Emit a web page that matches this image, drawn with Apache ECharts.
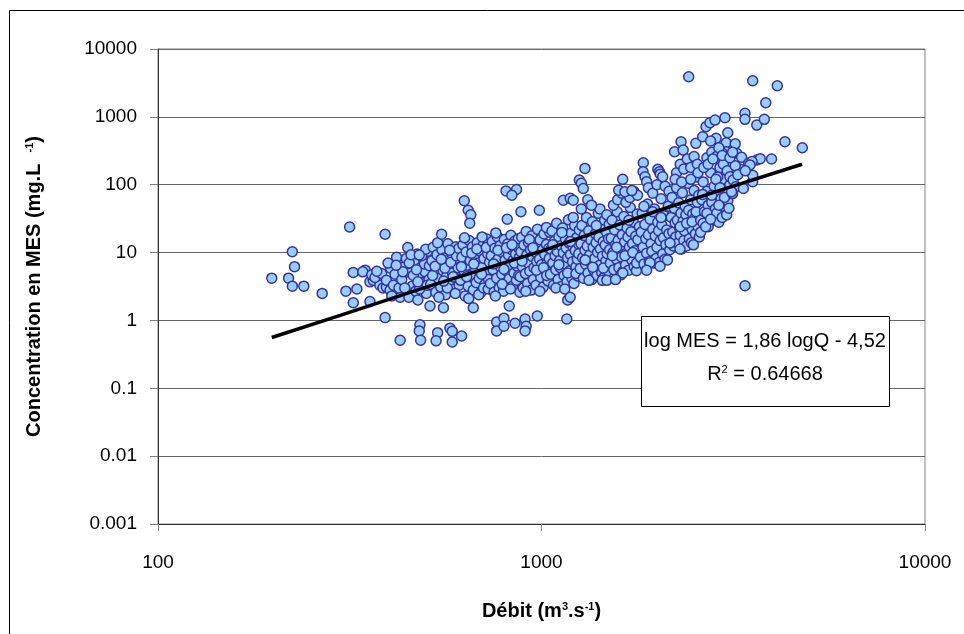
<!DOCTYPE html>
<html>
<head>
<meta charset="utf-8">
<script src="https://cdn.jsdelivr.net/npm/echarts@6/dist/echarts.min.js"></script>
<style>
html,body{margin:0;padding:0;background:#fff}
#chart{width:964px;height:634px}
</style>
</head>
<body>
<div id="chart"></div>
<script>
// samples [debit m3/s, MES mg/L]
var q200to350 = [[198,4.2],[219,4.2],[224,10.3],[227,6.2],[224,3.2],[240,3.2],[268,2.5],[309,2.7],[316,23.8],
    [323,5.1],[347,5.5],[342,5.2],[330,2.9],[323,1.82]];
var q350to510 = [[357,3.7],[364,3.9],[379,3.3],[386,3.0],[394,3.1],[361,4.7],[368,4.3],[383,4.9],[394,3.9],[403,2.8],
    [411,3.3],[357,1.9],[391,1.1],[391,18.6],[404,5.9],[419,8.5],[448,11.9],[428,2.2],[451,2.2],[372,5.3],[398,7.0],
    [415,4.8],[425,3.0],[432,4.0],[438,6.2],[444,8.2],[456,5.0],[460,3.2],[466,7.4],[470,2.7],[474,9.5],[478,4.3],
    [484,6.0],[488,3.6],[492,8.0],[497,5.2],[501,2.5],[505,10.5],[509,4.0],[440,3.0],[463,4.6],[481,2.9],[495,6.8],
    [452,7.0],[472,5.6],[487,9.0],[503,3.3],[435,5.2],[457,9.3],[476,3.7],[499,11.2],[510,6.4],[407,2.3],[418,6.5],
    [480,9.2],[428,0.51],[482,0.86],[480,0.70],[484,0.51],[512,1.63],[476,2.0]];
var q510to730 = [[514,3.4],[518,7.6],[522,12.0],[526,5.0],[530,2.6],[534,9.3],[538,4.2],[542,6.6],[546,3.1],[550,11.0],
    [554,5.4],[558,8.3],[562,2.4],[566,4.5],[570,13.5],[574,6.8],[578,3.6],[582,9.8],[586,5.0],[590,2.9],[594,7.4],
    [598,12.2],[602,4.1],[606,6.0],[610,3.3],[520,4.6],[540,2.2],[560,5.9],[580,7.2],[600,9.0],[528,6.3],[548,8.0],
    [568,3.0],[588,4.4],[608,11.5],[536,14.0],[556,3.8],[576,10.8],[596,2.5],[549,18.6],[536,0.66],[531,0.50],
    [577,0.77],[585,0.69],[585,0.48],[619,0.59],[555,1.54],
    [615,3.9],[620,8.6],[624,13.0],[628,5.4],[632,2.3],[636,10.2],[640,6.5],[644,3.2],[648,15.0],[652,7.6],[656,4.6],
    [660,12.1],[664,2.8],[668,9.0],[672,5.8],[676,3.6],[680,14.0],[684,7.0],[688,4.2],[692,10.5],[696,2.6],[700,6.1],
    [704,12.8],[708,8.2],[712,3.4],[716,5.1],[720,15.8],[724,9.6],[728,4.0],[732,7.2],[618,6.2],[638,4.4],[658,9.8],
    [678,11.3],[698,4.8],[718,11.9],[646,2.1],[666,6.8],[686,2.4],[706,3.0],[726,2.9],[664,1.54],[629,58],[644,42],
    [654,36],[650,27],[700,17.0],[630,16.5]];
var q730to1050 = [[736,3.5],[740,9.0],[744,14.5],[748,5.6],[752,2.6],[756,11.6],[760,7.3],[764,4.2],[768,17.0],[772,8.2],
    [776,3.0],[780,12.7],[784,6.0],[788,4.8],[792,10.0],[796,2.7],[800,15.6],[804,7.8],[808,3.6],[812,5.3],[816,13.4],
    [820,9.2],[824,4.1],[828,6.6],[832,18.0],[836,11.0],[840,3.2],[844,7.7],[848,5.0],[852,14.8],[856,9.5],[860,3.9],
    [864,6.3],[868,12.0],[872,4.6],[876,8.6],[750,6.8],[770,10.8],[790,3.4],[810,11.8],[830,2.9],[850,7.0],[870,16.0],
    [758,2.3],[798,5.7],[838,13.0],[878,2.6],[764,0.95],[798,1.08],[764,0.70],[798,0.82],[853,0.91],[824,1.63],
    [808,81],[861,85],[837,70],[814,31],[760,19.5],
    [880,4.4],[884,10.3],[888,16.8],[892,6.2],[896,3.0],[900,12.9],[904,8.1],[908,4.9],[912,20.5],[916,9.2],[920,3.5],
    [924,14.2],[928,6.8],[932,5.3],[936,11.0],[940,2.8],[944,17.7],[948,8.7],[952,4.0],[956,6.0],[960,13.6],[964,10.1],
    [968,3.3],[972,7.4],[976,22.0],[980,12.2],[984,5.1],[988,8.0],[992,15.5],[996,4.3],[1000,6.6],[1005,10.8],
    [1010,3.1],[1015,18.8],[1020,9.4],[1025,5.6],[1030,13.2],[1035,7.0],[1040,3.8],[1045,11.5],[1050,20.0],[890,7.5],
    [910,2.7],[930,15.6],[950,11.8],[970,5.5],[990,2.7],[1012,6.0],[1032,4.6],[1048,8.2],[906,1.05],[912,0.82],
    [906,0.70],[975,1.16],[884,40],[987,42],[1030,23.5]];
var q1050to1510 = [[1055,4.8],[1060,11.2],[1065,20.8],[1070,7.0],[1075,3.3],[1080,14.7],[1085,9.0],[1090,5.6],[1095,27.0],
    [1100,10.4],[1105,4.0],[1110,17.1],[1115,7.6],[1120,6.0],[1125,12.6],[1130,3.2],[1135,23.0],[1140,9.9],[1145,4.6],
    [1150,6.8],[1155,15.8],[1160,11.7],[1165,3.7],[1170,8.4],[1175,30.5],[1180,13.9],[1185,5.4],[1190,9.4],[1195,19.4],
    [1200,4.2],[1205,7.3],[1210,12.0],[1215,3.5],[1220,25.0],[1225,10.7],[1230,6.2],[1235,16.6],[1240,8.0],[1245,4.5],
    [1250,13.3],[1255,21.5],[1070,13.0],[1090,3.0],[1110,6.6],[1130,19.8],[1150,2.9],[1170,5.0],[1190,14.6],[1210,33.0],
    [1230,4.9],[1250,9.6],[1140,59],[1188,63],[1210,59],[1170,2.0],[1188,2.2],[1164,1.05],
    [1262,5.8],[1268,13.5],[1274,25.0],[1280,8.4],[1286,4.2],[1292,17.8],[1298,10.8],[1304,6.7],[1310,33.0],[1316,12.5],
    [1322,5.0],[1328,21.0],[1334,9.1],[1340,7.2],[1346,15.2],[1352,4.0],[1358,28.5],[1364,11.9],[1370,5.5],[1376,8.2],
    [1382,19.0],[1388,14.0],[1394,4.6],[1400,10.1],[1406,38.0],[1412,16.8],[1418,6.5],[1424,11.3],[1430,23.5],
    [1436,5.1],[1442,8.8],[1448,14.4],[1454,4.3],[1460,30.0],[1466,12.9],[1472,7.5],[1478,20.0],[1484,9.6],[1490,5.4],
    [1496,16.0],[1502,26.0],[1270,44],[1300,7.8],[1330,3.9],[1360,6.1],[1390,25.0],[1420,44],[1450,5.9],[1480,36.0],
    [1505,11.0],[1255,117],[1270,105],[1285,88],[1298,174],[1440,3.9],[1480,3.9],[1320,60],[1350,50]];
var q1510to2160 = [[1512,7.0],[1520,16.2],[1528,30.0],[1536,10.0],[1544,5.6],[1552,21.5],[1560,13.0],[1568,8.0],[1576,40.0],
    [1584,15.0],[1592,6.0],[1600,25.5],[1608,11.0],[1616,8.6],[1624,18.2],[1632,5.3],[1640,34.0],[1648,14.3],[1656,6.6],
    [1664,9.8],[1672,23.0],[1680,17.0],[1688,5.5],[1696,12.1],[1704,46.0],[1712,20.2],[1720,7.8],[1728,13.6],[1736,28.5],
    [1744,6.2],[1752,10.6],[1760,17.4],[1768,5.4],[1776,37.0],[1784,15.5],[1792,9.0],[1800,24.0],[1540,50],[1580,60],
    [1620,75],[1660,55],[1700,65],[1740,80],[1780,70],[1530,9.0],[1570,12.0],[1610,4.7],[1650,9.0],[1690,30.0],
    [1730,10.0],[1770,7.0],[1628,120],[1590,83],[1650,79],[1720,82],[1629,5.0],[1560,4.0],
    [1810,8.5],[1820,20.0],[1830,38.0],[1840,12.0],[1850,6.8],[1860,26.0],[1870,16.0],[1880,9.8],[1890,52.0],[1900,18.3],
    [1910,7.4],[1920,31.0],[1930,13.5],[1940,10.5],[1950,22.0],[1960,7.0],[1970,44.0],[1980,17.6],[1990,8.2],[2000,12.0],
    [2010,28.0],[2020,21.0],[2030,7.2],[2040,15.0],[2050,62.0],[2060,25.5],[2070,9.5],[2080,16.6],[2090,35.0],[2100,8.0],
    [2110,13.0],[2120,21.5],[2130,7.8],[2140,48.0],[2150,19.0],[2160,11.0],[1843,211],[1840,155],[1862,131],[1880,111],
    [2010,169],[2030,155],[2040,143],[2070,131],[1900,90],[1950,75],[2000,100],[2100,95],[2150,80],[1850,48],[1950,40],
    [2050,33],[1918,7.1],[2037,6.3],[1880,5.5]];
var q2160to3100 = [[2170,14.0],[2180,33.0],[2190,65.0],[2200,20.0],[2210,12.5],[2220,45.0],[2230,27.5],[2240,17.0],[2250,90.0],
    [2260,30.0],[2270,13.8],[2280,54.0],[2290,23.0],[2300,18.0],[2310,38.0],[2320,11.3],[2330,76.0],[2340,29.0],[2350,15.0],
    [2360,21.0],[2370,48.0],[2380,36.0],[2390,12.5],[2400,26.0],[2410,105],[2420,42.0],[2430,16.0],[2440,28.5],[2450,60.0],
    [2460,14.0],[2470,22.0],[2480,37.0],[2490,13.0],[2500,82.0],[2510,32.0],[2520,19.0],[2530,40.0],[2540,130],[2550,55.0],
    [2560,24.0],[2570,70.0],[2580,17.0],[2311,430],[2223,306],[2341,324],[2526,407],[2632,510],[2250,150],[2300,200],
    [2350,170],[2400,240],[2450,180],[2500,260],[2550,200],[2230,120],[2320,110],[2450,120],[2560,150],[2300,24],[2390,27],
    [2470,28.5],[2163,13.8],[2297,11.3],
    [2600,30.0],[2620,60.0],[2640,110],[2660,40.0],[2680,27.0],[2700,80.0],[2720,50.0],[2740,35.0],[2760,150],[2780,55.0],
    [2800,30.0],[2820,95.0],[2840,44.0],[2860,38.0],[2880,70.0],[2900,28.0],[2920,180],[2940,62.0],[2960,33.0],[2980,48.0],
    [3000,120],[3020,85.0],[3040,36.0],[3060,58.0],[3080,220],[3100,100],[2685,716],[2750,819],[2834,897],[3009,971],
    [2853,482],[3060,583],[3032,416],[3030,306],[2955,296],[2700,250],[2780,300],[2860,260],[2900,350],[2980,200],
    [2650,180],[2720,200],[2800,240],[2880,130],[2960,270],[3050,160],[2630,72],[2700,38],[2780,70],[2850,120],[2920,90],
    [3000,65],[3080,45],[2640,27],[2720,24],[2600,20],[2680,24],[2760,31],[2900,50],[2760,440]];
var q3100up = [[3100,131],[3160,117],[3213,93],[3300,169],[3227,290],[3325,253],[3360,88],[3393,1128],[3393,919],[3642,757],
    [3811,919],[3844,1614],[3554,3404],[4120,2876],[4313,430],[4787,351],[3980,239],[3642,231],[3718,242],[3468,207],
    [3540,220],[3554,111],[3554,138],[3496,196],[3200,190],[3150,74],[3130,79],[3393,3.25],[3250,140],[3400,160],
    [3100,250],[3200,400],[3150,300],[2420,3900]];

// regression line read along the drawn trend (log MES = 1,86 logQ - 4,52)
var trendPoints = [[198,0.56],[300,1.2],[500,3.1],[1000,10.5],[2000,41],[3000,87],[4780,200]];

var yTicksFmt = function (v) { return String(+v.toPrecision(3)); };
var labelFont = 'Liberation Sans';

var chart = echarts.init(document.getElementById('chart'));
var option = {
    animation: false,
    backgroundColor: '#fff',
    grid: {left: 158, right: 39, top: 49, bottom: 110, show: true, borderColor: '#808080', borderWidth: 1},
    xAxis: {
        type: 'log', logBase: 10, min: 100, max: 10000, splitNumber: 2,
        axisLine: {lineStyle: {color: '#333', width: 1}},
        axisTick: {show: true, length: 7, lineStyle: {color: '#808080'}},
        splitLine: {show: false},
        axisLabel: {margin: 29, fontSize: 19, color: '#000', fontFamily: labelFont, formatter: yTicksFmt},
        name: 'Débit (m{sup|3}.s{sup|-1})', nameLocation: 'middle', nameGap: 77,
        nameTextStyle: {fontSize: 20, fontWeight: 'bold', color: '#000', fontFamily: labelFont,
            rich: {sup: {fontSize: 11, fontWeight: 'bold', fontFamily: labelFont, verticalAlign: 'top', color: '#000'}}}
    },
    yAxis: {
        type: 'log', logBase: 10, min: 0.001, max: 10000, splitNumber: 7,
        axisLine: {lineStyle: {color: '#333', width: 1}},
        axisTick: {show: true, length: 8, lineStyle: {color: '#808080'}},
        splitLine: {show: true, lineStyle: {color: '#666', width: 1}},
        axisLabel: {margin: 21, fontSize: 19, color: '#000', fontFamily: labelFont, formatter: yTicksFmt},
        name: 'Concentration en MES (mg.L  {sup|-1})', nameLocation: 'middle', nameGap: 114,
        nameTextStyle: {fontSize: 20, fontWeight: 'bold', color: '#000', fontFamily: labelFont,
            rich: {sup: {fontSize: 11, fontWeight: 'bold', fontFamily: labelFont, verticalAlign: 'top', color: '#000'}}}
    },
    series: [
        {
            type: 'scatter',
            symbol: 'circle',
            symbolSize: 10,
            itemStyle: {color: '#99CCFF', borderColor: '#333399', borderWidth: 1.5, opacity: 1},
            data: [].concat(q200to350, q350to510, q510to730, q730to1050, q1050to1510, q1510to2160, q2160to3100, q3100up),
            z: 2
        },
        {
            type: 'line',
            data: trendPoints,
            showSymbol: false,
            symbol: 'none',
            lineStyle: {color: '#000', width: 3.5},
            z: 3
        }
    ],
    graphic: [
        {type: 'rect', shape: {x: 9.5, y: 10.5, width: 1000, height: 700}, style: {fill: 'none', stroke: '#000', lineWidth: 1}, z: 0, silent: true},
        {type: 'rect', shape: {x: 641.5, y: 316.5, width: 248, height: 90}, style: {fill: '#fff', stroke: '#000', lineWidth: 1}, z: 100},
        {type: 'text', x: 765, y: 341, z: 101,
            style: {text: 'log MES = 1,86 logQ - 4,52', fontSize: 20, fontFamily: labelFont, fill: '#000', align: 'center', verticalAlign: 'middle'}},
        {type: 'text', x: 765, y: 374, z: 101,
            style: {text: 'R{sup|2} = 0.64668', fontSize: 20, fontFamily: labelFont, fill: '#000', align: 'center', verticalAlign: 'middle',
                rich: {sup: {fontSize: 11, fontFamily: labelFont, fill: '#000', verticalAlign: 'top'}}}}
    ]
};
chart.setOption(option);
</script>
</body>
</html>
